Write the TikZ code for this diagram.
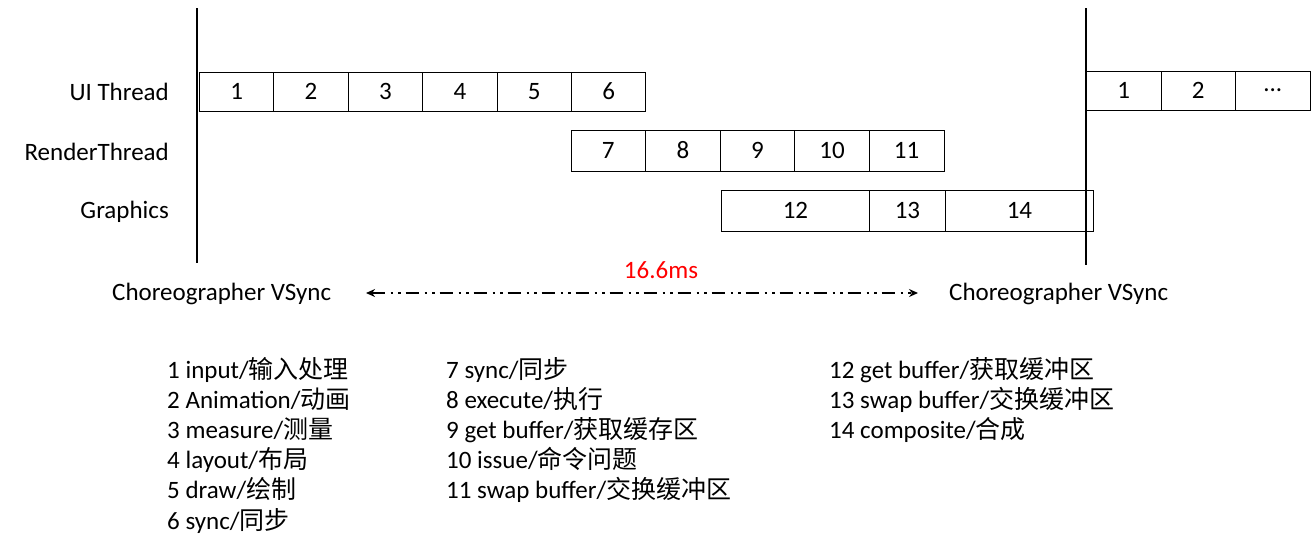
\documentclass[tikz,border=0pt]{standalone}
\usepackage{fontspec}
\setmainfont{Carlito}
\newfontfamily\cjk{Noto Sans CJK SC}
\usetikzlibrary{arrows.meta}
\newcommand{\lab}{\fontsize{25}{30}\selectfont}
\tikzset{
  cell/.style={draw, line width=0.9pt, inner sep=0pt, anchor=west, font=\lab},
  rowlabel/.style={anchor=east, font=\lab, inner sep=0pt},
  legend/.style={anchor=base west, font=\lab, inner sep=0pt},
  vline/.style={line width=2.8pt},
  period/.style={line width=1.6pt, dash pattern=on 13pt off 6pt on 2.5pt off 5pt on 2.5pt off 5pt, {Stealth[length=9pt,width=8pt]}-{Stealth[length=9pt,width=8pt]}}
}
\begin{document}
\begin{tikzpicture}[x=1pt,y=-1pt]
\useasboundingbox (0,0) rectangle (1316,552);
% vertical vsync lines
\coordinate (l1) at (197,8);
\coordinate (l2) at (197,263);
\coordinate (r1) at (1086,8);
\coordinate (r2) at (1086,265);
\draw[vline] (l1) -- (l2);
% row labels
\node[rowlabel] (lui) at (169,92) {UI Thread};
\node[rowlabel] (lrt) at (169,152) {RenderThread};
\node[rowlabel] (lgr) at (169,212) {Graphics};
% UI thread row
\foreach \i in {1,...,6} {
  \node[cell, minimum width=74.4pt, minimum height=39pt] (u\i) at ({199+74.4*(\i-1)},91.5) {\i};
}
% RenderThread row
\foreach \i/\n in {0/7,1/8,2/9,3/10,4/11} {
  \node[cell, minimum width=74.6pt, minimum height=41pt] (r\n) at ({570.5+74.6*\i},150.5) {\n};
}
% Graphics row
\node[cell, minimum width=148pt, minimum height=41pt] (g12) at (721,210.5) {12};
\node[cell, minimum width=76pt, minimum height=41pt] (g13) at (869,210.5) {13};
\node[cell, minimum width=148pt, minimum height=41pt] (g14) at (945,210.5) {14};
% next frame UI row
\node[cell, minimum width=74.5pt, minimum height=39pt] (n1) at (1086,90.5) {1};
\node[cell, minimum width=74.5pt, minimum height=39pt] (n2) at (1160.5,90.5) {2};
\node[cell, minimum width=74.5pt, minimum height=39pt] (n3) at (1235,90.5) {...};
\draw[vline] (r1) -- (r2);
% vsync labels
\node[anchor=west, font=\lab, inner sep=0pt] (cv1) at (112,294) {Choreographer VSync};
\node[anchor=west, font=\lab, inner sep=0pt] (cv2) at (949,294) {Choreographer VSync};
\node[font=\lab, text=red, inner sep=0pt] (ms) at (661,270) {16.6ms};
\coordinate (a1) at (366,293);
\coordinate (a2) at (918,293);
\draw[period] (a1) -- (a2);
% legend
\node[legend] (t1) at (167,378) {1 input/{\cjk 输入处理}};
\node[legend] (t2) at (167,408.2) {2 Animation/{\cjk 动画}};
\node[legend] (t3) at (167,438.4) {3 measure/{\cjk 测量}};
\node[legend] (t4) at (167,468.6) {4 layout/{\cjk 布局}};
\node[legend] (t5) at (167,498.8) {5 draw/{\cjk 绘制}};
\node[legend] (t6) at (167,529) {6 sync/{\cjk 同步}};
\node[legend] (t7) at (446,378) {7 sync/{\cjk 同步}};
\node[legend] (t8) at (446,408.2) {8 execute/{\cjk 执行}};
\node[legend] (t9) at (446,438.4) {9 get buffer/{\cjk 获取缓存区}};
\node[legend] (t10) at (446,468.6) {10 issue/{\cjk 命令问题}};
\node[legend] (t11) at (446,498.8) {11 swap buffer/{\cjk 交换缓冲区}};
\node[legend] (t12) at (829,378) {12 get buffer/{\cjk 获取缓冲区}};
\node[legend] (t13) at (829,408.2) {13 swap buffer/{\cjk 交换缓冲区}};
\node[legend] (t14) at (829,438.4) {14 composite/{\cjk 合成}};
\end{tikzpicture}
\end{document}
